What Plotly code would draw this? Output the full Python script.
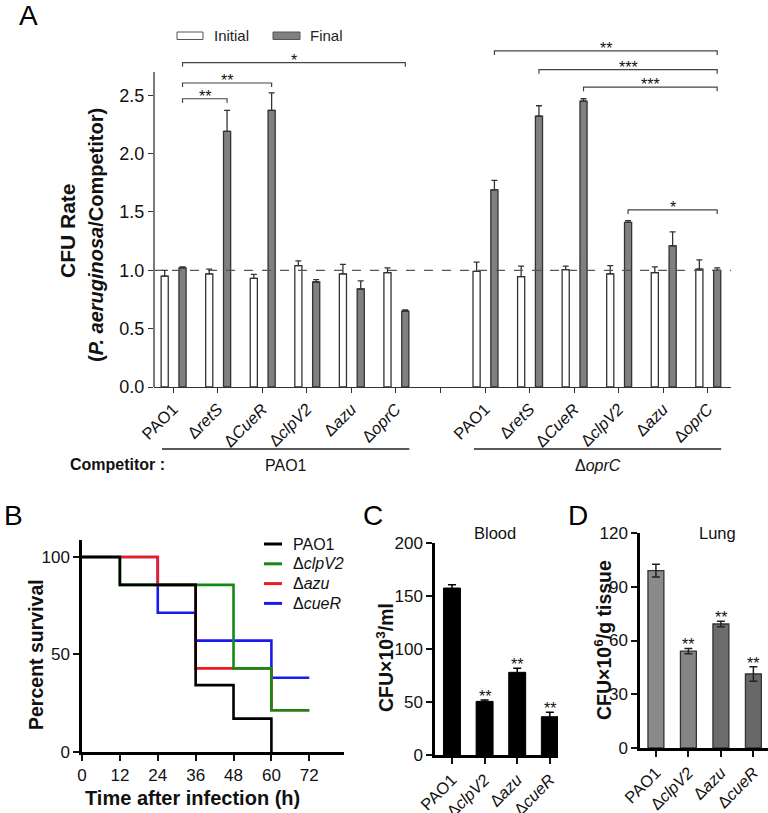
import plotly.graph_objects as go

W, H = 768, 813
FONT = "Liberation Sans, Arial, Helvetica, sans-serif"

# ---------------- Panel A data ----------------
a_strains = ["PAO1", "Δ<i>retS</i>", "Δ<i>CueR</i>", "Δ<i>clpV2</i>", "Δ<i>azu</i>", "Δ<i>oprC</i>"]
a_init_pao1 = [0.95, 0.97, 0.93, 1.04, 0.97, 0.98]
a_init_pao1_err = [0.05, 0.04, 0.035, 0.04, 0.08, 0.04]
a_final_pao1 = [1.02, 2.19, 2.37, 0.90, 0.84, 0.65]
a_final_pao1_err = [0.01, 0.18, 0.15, 0.02, 0.07, 0.01]
a_init_oprc = [0.99, 0.945, 1.005, 0.97, 0.98, 1.01]
a_init_oprc_err = [0.08, 0.09, 0.03, 0.07, 0.05, 0.08]
a_final_oprc = [1.69, 2.32, 2.45, 1.41, 1.21, 1.00]
a_final_oprc_err = [0.08, 0.09, 0.02, 0.015, 0.12, 0.02]
a_yticks = [0.0, 0.5, 1.0, 1.5, 2.0, 2.5]
a_competitors = ["PAO1", "Δ<i>oprC</i>"]
# (competitor group, from strain, to strain, bracket level, label)
a_sig = [(0, 0, 1, 2.47, "**"), (0, 0, 2, 2.605, "**"), (0, 0, 5, 2.78, "*"),
         (1, 0, 5, 2.88, "**"), (1, 1, 5, 2.72, "***"), (1, 2, 5, 2.57, "***"),
         (1, 3, 5, 1.517, "*")]

# ---------------- Panel B data ----------------
b_names = ["PAO1", "Δ<i>clpV2</i>", "Δ<i>azu</i>", "Δ<i>cueR</i>"]
b_colors = ["#000000", "#148a14", "#ee1c1c", "#1a1aee"]
b_pao1_t = [0, 12, 36, 48, 60]
b_pao1_s = [100, 85.7, 34.3, 17.1, 0]
b_clpv2_t = [0, 12, 48, 60, 72]
b_clpv2_s = [100, 85.7, 42.9, 21.4, 21.4]
b_azu_t = [0, 24, 36, 60, 72]
b_azu_s = [100, 85.7, 42.9, 21.4, 21.4]
b_cuer_t = [0, 24, 36, 60, 72]
b_cuer_s = [100, 71.4, 57.1, 38.1, 38.1]
b_xticks = [0, 12, 24, 36, 48, 60, 72]
b_yticks = [0, 50, 100]

# ---------------- Panel C data ----------------
c_strains = ["PAO1", "Δ<i>clpV2</i>", "Δ<i>azu</i>", "Δ<i>cueR</i>"]
c_vals = [157.5, 50.6, 78.0, 36.1]
c_err = [3.0, 1.3, 3.8, 4.2]
c_sig = ["", "**", "**", "**"]
c_yticks = [0, 50, 100, 150, 200]

# ---------------- Panel D data ----------------
d_strains = ["PAO1", "Δ<i>clpV2</i>", "Δ<i>azu</i>", "Δ<i>cueR</i>"]
d_vals = [99.0, 54.1, 69.2, 41.3]
d_err = [3.5, 1.5, 1.5, 4.0]
d_sig = ["", "**", "**", "**"]
d_colors = ["#8a8a8a", "#858585", "#6c6c6c", "#686868"]
d_yticks = [0, 30, 60, 90, 120]


def px(x):
    return x / W


def py(y):
    return 1 - y / H


fig = go.Figure()
shapes = []
ann = []


def label(x, y, text, size, angle=0, xanchor="center", color="#111"):
    ann.append(dict(x=px(x), y=py(y), xref="paper", yref="paper", text=text, showarrow=False,
                    xanchor=xanchor, yanchor="middle", textangle=angle,
                    font=dict(size=size, color=color)))


# ================= Panel A =================
GAP = 7  # index of first strain of second competitor group
a_x = list(range(6)) + [i + GAP for i in range(6)]
init_vals = a_init_pao1 + a_init_oprc
init_err = a_init_pao1_err + a_init_oprc_err
final_vals = a_final_pao1 + a_final_oprc
final_err = a_final_pao1_err + a_final_oprc_err
BW = 0.16
OFF_I, OFF_F = -0.27, 0.13
edge = "#333333"

fig.add_trace(go.Bar(
    x=a_x, y=init_vals, width=BW, offset=OFF_I, name="Initial",
    marker=dict(color="white", line=dict(color=edge, width=1.3)),
    error_y=dict(type="data", array=init_err, arrayminus=[0] * 12, symmetric=False,
                 color=edge, thickness=1.3, width=3),
    xaxis="x", yaxis="y", showlegend=False))
fig.add_trace(go.Bar(
    x=a_x, y=final_vals, width=BW, offset=OFF_F, name="Final",
    marker=dict(color="#808080", line=dict(color=edge, width=1.3)),
    error_y=dict(type="data", array=final_err, arrayminus=[0] * 12, symmetric=False,
                 color=edge, thickness=1.3, width=3),
    xaxis="x", yaxis="y", showlegend=False))

a_range = [0, 2.95]
# y axis line (only up to 2.7)
shapes.append(dict(type="line", xref="x domain", yref="y", x0=0, x1=0, y0=0, y1=2.7,
                   line=dict(color="#333333", width=1.3)))
# dashed reference line
shapes.append(dict(type="line", xref="x domain", yref="y", x0=0, x1=1, y0=1, y1=1,
                   line=dict(color="#555555", width=1.2, dash="dash")))
# significance brackets
fc = OFF_F + BW / 2
for g, i0, i1, lvl, lab in a_sig:
    xa = i0 + g * GAP + fc
    xb = i1 + g * GAP + fc
    drop = 0.035
    shapes.append(dict(type="path", xref="x", yref="y",
                       path=f"M{xa},{lvl - drop} L{xa},{lvl} L{xb},{lvl} L{xb},{lvl - drop}",
                       line=dict(color="#444444", width=1.2)))
    ann.append(dict(x=(xa + xb) / 2, y=lvl, xref="x", yref="y", text=lab, showarrow=False,
                    xanchor="center", yanchor="bottom", yshift=-8, font=dict(size=16, color="#111")))

# group lines & labels under axis
for g, comp in enumerate(a_competitors):
    x0 = g * GAP - 0.25
    x1 = g * GAP + 5 + 0.3
    shapes.append(dict(type="line", xref="x", yref="paper", x0=x0, x1=x1,
                       y0=py(449), y1=py(449), line=dict(color="#222", width=1.3)))
    ann.append(dict(x=(x0 + x1) / 2, y=py(465), xref="x", yref="paper", text=comp,
                    showarrow=False, xanchor="center", yanchor="middle",
                    font=dict(size=16, color="#111")))
label(117, 464, "<b>Competitor :</b>", 16)

# legend for A
for (bx0, bx1, col, tx, lab) in [(177, 203, "white", 212, "Initial"), (273, 300, "#808080", 308, "Final")]:
    shapes.append(dict(type="rect", xref="paper", yref="paper", x0=px(bx0), x1=px(bx1),
                       y0=py(39.5), y1=py(32), fillcolor=col, line=dict(color="#555", width=1)))
    label(tx, 36, lab, 15, xanchor="left", color="#222")

# y title A
label(68, 231, "<b>CFU Rate</b>", 21, angle=-90)
label(96, 235, "<b>(<i>P. aeruginosa</i>/Competitor)</b>", 20, angle=-90)

# ================= Panel B =================
b_series = [(b_cuer_t, b_cuer_s, 3), (b_azu_t, b_azu_s, 2), (b_clpv2_t, b_clpv2_s, 1), (b_pao1_t, b_pao1_s, 0)]
for t, s, k in b_series:
    fig.add_trace(go.Scatter(x=t, y=s, mode="lines", line=dict(shape="hv", color=b_colors[k], width=2.6),
                             name=b_names[k], xaxis="x2", yaxis="y2", showlegend=False))
# custom legend for B
for k, name in enumerate(b_names):
    yy = 544 + k * 19.8
    shapes.append(dict(type="line", xref="paper", yref="paper", x0=px(264), x1=px(282),
                       y0=py(yy), y1=py(yy), line=dict(color=b_colors[k], width=3)))
    label(291, yy, name, 16, xanchor="left")
label(36, 655, "<b>Percent survival</b>", 19.5, angle=-90)
label(192, 798, "<b>Time after infection (h)</b>", 20)

# ================= Panel C =================
fig.add_trace(go.Bar(
    x=list(range(4)), y=c_vals, width=0.52, marker=dict(color="black", line=dict(color="black", width=1)),
    error_y=dict(type="data", array=c_err, color="black", thickness=1.5, width=4),
    xaxis="x3", yaxis="y3", showlegend=False))
for i, s in enumerate(c_sig):
    if s:
        ann.append(dict(x=i, y=c_vals[i] + c_err[i], xref="x3", yref="y3", text=s, showarrow=False,
                        xanchor="center", yanchor="bottom", yshift=-7, font=dict(size=16, color="#111")))
label(495, 533, "Blood", 16.5)
label(385, 658, "<b>CFU×10<sup>3</sup>/ml</b>", 19.5, angle=-90)

# ================= Panel D =================
fig.add_trace(go.Bar(
    x=list(range(4)), y=d_vals, width=0.49, marker=dict(color=d_colors, line=dict(color="#333", width=1.3)),
    error_y=dict(type="data", array=d_err, color="#222", thickness=1.5, width=4),
    xaxis="x4", yaxis="y4", showlegend=False))
for i, s in enumerate(d_sig):
    if s:
        ann.append(dict(x=i, y=d_vals[i] + d_err[i], xref="x4", yref="y4", text=s, showarrow=False,
                        xanchor="center", yanchor="bottom", yshift=-7, font=dict(size=16, color="#111")))
label(717, 533, "Lung", 16.5)
label(603, 640, "<b>CFU×10<sup>6</sup>/g tissue</b>", 19.5, angle=-90)

# panel letters
for L, x, y in [("A", 28, 16), ("B", 13, 515), ("C", 373, 515), ("D", 578, 515)]:
    label(x, y, L, 28, color="#000")

ax_common = dict(showgrid=False, zeroline=False, ticks="outside", color="#111", automargin=False)
a_tickvals = list(range(13))
a_ticktext = a_strains + [""] + a_strains

fig.update_layout(
    width=W, height=H, margin=dict(l=0, r=0, t=0, b=0, autoexpand=False),
    paper_bgcolor="white", plot_bgcolor="white",
    font=dict(family=FONT, size=15, color="#111"),
    barmode="overlay",
    shapes=shapes, annotations=ann,
    xaxis=dict(domain=[px(154), px(731)], anchor="y", range=[-0.43, 12.52],
               tickvals=a_tickvals, ticktext=a_ticktext, tickangle=-45,
               showline=True, linecolor="#333", linewidth=1.3, ticklen=5, tickcolor="#333",
               tickfont=dict(size=16.5), **ax_common),
    yaxis=dict(domain=[py(387), py(387 - 2.95 * 116.7)], anchor="x", range=a_range,
               tickvals=a_yticks, tickformat=".1f", showline=False, ticklen=5, tickcolor="#333",
               tickfont=dict(size=18), **ax_common),
    xaxis2=dict(domain=[px(82), px(344)], anchor="y2", range=[0, 83], tickvals=b_xticks,
                showline=True, linecolor="black", linewidth=2.5, ticklen=6, tickwidth=2,
                tickfont=dict(size=17), **ax_common),
    yaxis2=dict(domain=[py(752), py(540)], anchor="x2", range=[0, 108.7], tickvals=b_yticks,
                showline=True, linecolor="black", linewidth=2.5, ticklen=6, tickwidth=2,
                tickfont=dict(size=17), **ax_common),
    xaxis3=dict(domain=[px(435), px(558)], anchor="y3", range=[-0.52, 3.25], tickvals=list(range(4)),
                ticktext=c_strains, tickangle=-45,
                showline=True, linecolor="black", linewidth=2.5, ticklen=6, tickwidth=2,
                tickfont=dict(size=16.5), **ax_common),
    yaxis3=dict(domain=[py(755), py(543)], anchor="x3", range=[0, 200], tickvals=c_yticks,
                showline=True, linecolor="black", linewidth=2.5, ticklen=6, tickwidth=2,
                tickfont=dict(size=17), **ax_common),
    xaxis4=dict(domain=[px(640), 1.0], anchor="y4", range=[-0.49, 3.45], tickvals=list(range(4)),
                ticktext=d_strains, tickangle=-45,
                showline=True, linecolor="black", linewidth=2.5, ticklen=6, tickwidth=2,
                tickfont=dict(size=16.5), **ax_common),
    yaxis4=dict(domain=[py(748), py(533)], anchor="x4", range=[0, 120], tickvals=d_yticks,
                showline=True, linecolor="black", linewidth=2.5, ticklen=6, tickwidth=2,
                tickfont=dict(size=17), **ax_common),
)

fig.write_html("out.html", config={"displayModeBar": False},
               post_script="document.body.style.margin='0px';document.body.style.overflow='hidden';")
